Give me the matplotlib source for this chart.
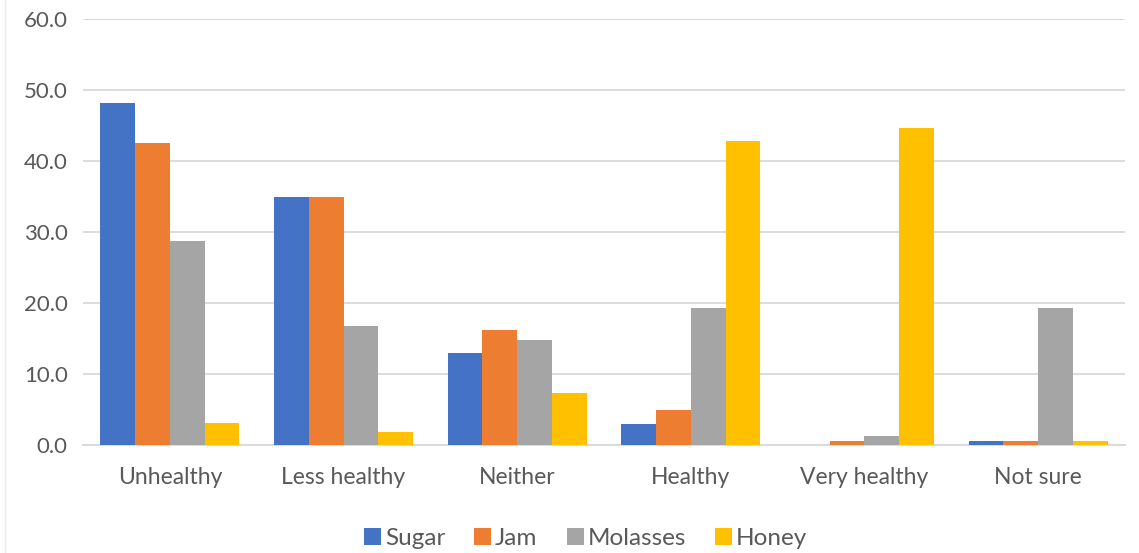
import numpy as np
import matplotlib
matplotlib.use("Agg")
import matplotlib.pyplot as plt

plt.rcParams["font.family"] = ["Lato", "DejaVu Sans"]

categories = ["Unhealthy", "Less healthy", "Neither", "Healthy", "Very healthy", "Not sure"]
series_names = ["Sugar", "Jam", "Molasses", "Honey"]
sugar = [48.2, 35.0, 13.0, 3.0, 0.0, 0.5]
jam = [42.5, 35.0, 16.2, 4.9, 0.5, 0.5]
molasses = [28.8, 16.7, 14.8, 19.3, 1.2, 19.3]
honey = [3.1, 1.8, 7.3, 42.8, 44.6, 0.5]
yticks = [0, 10, 20, 30, 40, 50, 60]

colors = ["#4472C4", "#ED7D31", "#A5A5A5", "#FFC000"]
grid_color = "#D9D9D9"
text_color = "#595959"

fig = plt.figure(figsize=(11.39, 5.53), dpi=100)
ax = fig.add_axes([83 / 1139, 1 - 445 / 553, (1125 - 83) / 1139, (445 - 19) / 553])

x = np.arange(len(categories))
width = 0.2
for i, (name, vals) in enumerate(zip(series_names, [sugar, jam, molasses, honey])):
    ax.bar(x + (i - 1.5) * width, vals, width, color=colors[i], label=name, zorder=3)

ax.set_xlim(-0.5, len(categories) - 0.5)
ax.set_ylim(0, 60)
ax.set_yticks(yticks)
ax.set_yticklabels([f"{v:.1f}" for v in yticks])
ax.set_xticks(x)
ax.set_xticklabels(categories)
ax.tick_params(axis="both", length=0, labelcolor=text_color)
ax.tick_params(axis="x", pad=16, labelsize=16.5)
ax.tick_params(axis="y", pad=11, labelsize=16)

ax.grid(axis="y", color=grid_color, linewidth=1.3, zorder=0)
for side in ["top", "right", "left"]:
    ax.spines[side].set_visible(False)
ax.spines["bottom"].set_color(grid_color)
ax.spines["bottom"].set_linewidth(1.3)

fig.legend(loc="lower center", bbox_to_anchor=(0.514, -0.033), ncol=4, frameon=False,
           fontsize=17.5, labelcolor=text_color, handlelength=0.7, handleheight=0.7,
           handletextpad=0.15, columnspacing=1.2)

# faint chart-area border on the left edge
fig.add_artist(plt.Line2D([5 / 1139, 5 / 1139], [0, 1], color="#EEEEEE", linewidth=1))

fig.savefig("out.png", dpi=100)
